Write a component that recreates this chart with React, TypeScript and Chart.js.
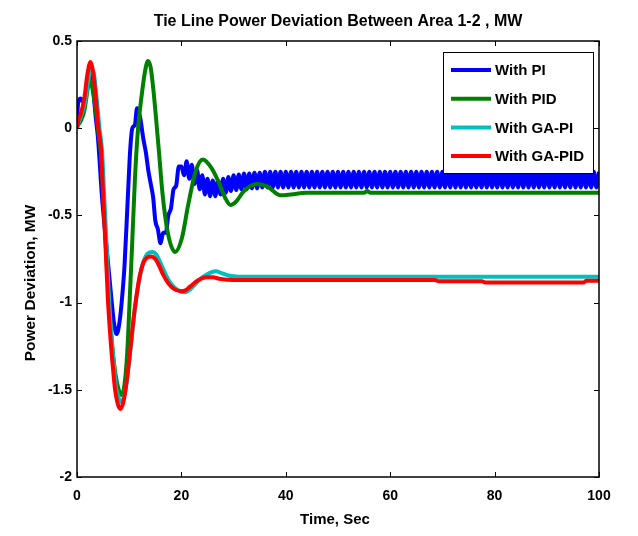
import React, { useEffect, useRef } from "react";
import { Chart, registerables } from "chart.js";

Chart.register(...registerables);

const chartTitle = "Tie Line Power Deviation Between Area 1-2 , MW";
const xAxisTitle = "Time, Sec";
const yAxisTitle = "Power Deviation, MW";
const seriesLabels = ["With PI", "With PID", "With GA-PI", "With GA-PID"];
const seriesColors = ["#0000FF", "#008000", "#00BFBF", "#FF0000"];
const xTicks = [0, 20, 40, 60, 80, 100];
const yTicks = [-2, -1.5, -1, -0.5, 0, 0.5];

// With PI (blue) – transient followed by a persistent ~1 s ripple
const piTime = [
  0, 0.2, 0.7, 1.2, 1.7, 2.2, 2.6, 3.1, 3.6, 4.0, 4.8, 5.4, 6.0, 6.6, 7.1, 7.6, 8.2, 8.7, 9.1, 9.7,
  10.2, 10.6, 11.1, 11.5, 12.1, 12.7, 13.2, 13.7, 14.2, 14.6, 15.0, 15.5, 16.0, 16.5, 17.0, 17.5, 18.0, 18.5, 19.0, 19.5,
  20.0, 20.5, 21.0, 21.5, 22.0, 22.5, 23.0, 23.5, 24.0, 24.5, 25.0, 25.5, 26.0, 26.5, 27.0, 27.5, 28.0, 28.5, 29.0, 29.5,
  30.0, 30.5, 31.0, 31.5, 32.0, 32.5, 33.0, 33.5, 34.0, 34.5, 35.0, 35.5, 36.0, 36.5, 37.0, 37.5, 38.0, 38.5, 39.0, 39.5,
  40.0, 40.5, 41.0, 41.5, 42.0, 42.5, 43.0, 43.5, 44.0, 44.5, 45.0, 45.5, 46.0, 46.5, 47.0, 47.5, 48.0, 48.5, 49.0, 49.5,
  50.0, 50.5, 51.0, 51.5, 52.0, 52.5, 53.0, 53.5, 54.0, 54.5, 55.0, 55.5, 56.0, 56.5, 57.0, 57.5, 58.0, 58.5, 59.0, 59.5,
  60.0, 60.5, 61.0, 61.5, 62.0, 62.5, 63.0, 63.5, 64.0, 64.5, 65.0, 65.5, 66.0, 66.5, 67.0, 67.5, 68.0, 68.5, 69.0, 69.5,
  70.0, 70.5, 71.0, 71.5, 72.0, 72.5, 73.0, 73.5, 74.0, 74.5, 75.0, 75.5, 76.0, 76.5, 77.0, 77.5, 78.0, 78.5, 79.0, 79.5,
  80.0, 80.5, 81.0, 81.5, 82.0, 82.5, 83.0, 83.5, 84.0, 84.5, 85.0, 85.5, 86.0, 86.5, 87.0, 87.5, 88.0, 88.5, 89.0, 89.5,
  90.0, 90.5, 91.0, 91.5, 92.0, 92.5, 93.0, 93.5, 94.0, 94.5, 95.0, 95.5, 96.0, 96.5, 97.0, 97.5, 98.0, 98.5, 99.0, 99.5,
  100.0,
];
const piValues = [
  0.02, 0.14, 0.17, 0.15, 0.2, 0.3, 0.33, 0.22, 0.06, -0.05, -0.4, -0.6, -0.79, -0.98, -1.12, -1.18, -1.1, -0.95, -0.79, -0.42,
  -0.12, 0.0, 0.02, 0.115, 0.06, -0.06, -0.14, -0.25, -0.33, -0.4, -0.53, -0.58, -0.66, -0.6, -0.6, -0.5, -0.46, -0.35, -0.33, -0.22,
  -0.22, -0.27, -0.19, -0.29, -0.21, -0.32, -0.24, -0.35, -0.27, -0.38, -0.29, -0.39, -0.3, -0.39, -0.3, -0.38, -0.29, -0.37, -0.28, -0.36,
  -0.27, -0.355, -0.265, -0.35, -0.26, -0.35, -0.26, -0.345, -0.255, -0.345, -0.255, -0.34, -0.25, -0.34, -0.25, -0.34, -0.25, -0.34, -0.25, -0.34,
  -0.25, -0.34, -0.25, -0.34, -0.25, -0.34, -0.25, -0.34, -0.25, -0.34, -0.25, -0.34, -0.25, -0.34, -0.25, -0.34, -0.25, -0.34, -0.25, -0.34,
  -0.25, -0.34, -0.25, -0.34, -0.25, -0.34, -0.25, -0.34, -0.25, -0.34, -0.25, -0.34, -0.25, -0.34, -0.25, -0.34, -0.25, -0.34, -0.25, -0.34,
  -0.25, -0.34, -0.25, -0.34, -0.25, -0.34, -0.25, -0.34, -0.25, -0.34, -0.25, -0.34, -0.25, -0.34, -0.25, -0.34, -0.25, -0.34, -0.25, -0.34,
  -0.25, -0.34, -0.25, -0.34, -0.25, -0.34, -0.25, -0.34, -0.25, -0.34, -0.25, -0.34, -0.25, -0.34, -0.25, -0.34, -0.25, -0.34, -0.25, -0.34,
  -0.25, -0.34, -0.25, -0.34, -0.25, -0.34, -0.25, -0.34, -0.25, -0.34, -0.25, -0.34, -0.25, -0.34, -0.25, -0.34, -0.25, -0.34, -0.25, -0.34,
  -0.25, -0.34, -0.25, -0.34, -0.25, -0.34, -0.25, -0.34, -0.25, -0.34, -0.25, -0.34, -0.25, -0.34, -0.25, -0.34, -0.25, -0.34, -0.25, -0.34,
  -0.25,
];

// With PID (green)
const pidTime = [
  0, 0.7, 1.4, 2.2, 2.6, 3.0, 3.6, 4.2, 4.6, 5.1, 5.6, 6.1, 6.6, 7.1, 7.6, 8.1, 8.6, 9.1, 9.6, 10.1,
  10.5, 11.1, 11.7, 12.4, 13.0, 13.6, 14.1, 14.6, 15.6, 16.4, 17.4, 18.8, 20.1, 21.3, 22.7, 24.1, 25.8, 27.0, 28.4, 29.4,
  30.5, 32.0, 34.5, 36.5, 39.0, 41.0, 44.0, 55.0, 55.6, 56.2, 100,
];
const pidValues = [
  0.01, 0.04, 0.1, 0.25, 0.27, 0.22, 0.1, -0.05, -0.15, -0.42, -0.72, -0.99, -1.2, -1.35, -1.45, -1.51, -1.53, -1.47, -1.3, -0.98,
  -0.71, -0.29, 0.0, 0.19, 0.32, 0.385, 0.35, 0.23, -0.1, -0.38, -0.6, -0.71, -0.63, -0.44, -0.25, -0.18, -0.23, -0.3, -0.4, -0.44,
  -0.42, -0.36, -0.32, -0.335, -0.385, -0.38, -0.37, -0.37, -0.36, -0.37, -0.37,
];

// With GA-PI (cyan)
const gaPiTime = [
  0, 0.4, 0.9, 1.6, 2.2, 2.8, 3.3, 3.8, 4.3, 4.8, 5.2, 5.7, 6.1, 6.6, 7.1, 7.5, 8.0, 8.5, 9.0, 9.5,
  10.0, 10.5, 11.0, 11.6, 12.2, 12.8, 13.5, 14.5, 15.2, 15.8, 16.7, 17.7, 18.7, 19.8, 20.8, 21.8, 22.8, 23.8, 24.8, 25.8,
  26.6, 27.6, 29.0, 31.0, 35.0, 100,
];
const gaPiValues = [
  0, 0.04, 0.08, 0.16, 0.28, 0.34, 0.3, 0.16, 0.0, -0.13, -0.38, -0.69, -0.96, -1.19, -1.37, -1.49, -1.55, -1.57, -1.54, -1.46,
  -1.34, -1.2, -1.06, -0.93, -0.83, -0.76, -0.72, -0.71, -0.725, -0.76, -0.82, -0.88, -0.915, -0.935, -0.94, -0.92, -0.89, -0.86, -0.84, -0.825,
  -0.82, -0.83, -0.845, -0.852, -0.852, -0.852,
];

// With GA-PID (red)
const gaPidTime = [
  0, 0.3, 0.7, 1.4, 2.0, 2.6, 3.1, 3.6, 4.1, 4.6, 5.0, 5.5, 5.9, 6.4, 6.9, 7.3, 7.8, 8.3, 8.8, 9.3,
  9.8, 10.3, 10.8, 11.4, 12.0, 12.6, 13.3, 14.3, 15.0, 15.6, 16.5, 17.5, 18.5, 19.9, 20.8, 21.6, 22.6, 23.6, 24.8, 26.0,
  27.5, 30.0, 35.0, 68.5, 69.2, 77.5, 78.2, 97.0, 97.6, 100,
];
const gaPidValues = [
  0, 0.05, 0.08, 0.17, 0.31, 0.38, 0.32, 0.17, 0.0, -0.12, -0.38, -0.7, -0.97, -1.2, -1.38, -1.5, -1.58, -1.61, -1.58, -1.5,
  -1.38, -1.24, -1.1, -0.96, -0.85, -0.78, -0.745, -0.735, -0.75, -0.78, -0.84, -0.89, -0.92, -0.935, -0.93, -0.91, -0.885, -0.865, -0.855, -0.855,
  -0.865, -0.87, -0.87, -0.87, -0.877, -0.877, -0.885, -0.885, -0.875, -0.875,
];

const seriesTimes = [piTime, pidTime, gaPiTime, gaPidTime];
const seriesValues = [piValues, pidValues, gaPiValues, gaPidValues];

const FONT = "'Liberation Sans', Arial, Helvetica, sans-serif";

const framePlugin = {
  id: "matlabFrame",
  afterDraw(chart: any) {
    const { ctx, chartArea: a, scales } = chart;
    const xs = scales.x;
    const ys = scales.y;
    ctx.save();
    ctx.strokeStyle = "#000";
    ctx.lineWidth = 1.5;
    ctx.strokeRect(a.left, a.top, a.right - a.left, a.bottom - a.top);
    ctx.lineWidth = 1;
    const tl = 5;
    ctx.beginPath();
    xTicks.forEach((t) => {
      const px = Math.round(xs.getPixelForValue(t)) + 0.5;
      ctx.moveTo(px, a.top);
      ctx.lineTo(px, a.top + tl);
      ctx.moveTo(px, a.bottom);
      ctx.lineTo(px, a.bottom - tl);
    });
    yTicks.forEach((v) => {
      const py = Math.round(ys.getPixelForValue(v)) + 0.5;
      ctx.moveTo(a.left, py);
      ctx.lineTo(a.left + tl, py);
      ctx.moveTo(a.right, py);
      ctx.lineTo(a.right - tl, py);
    });
    ctx.stroke();

    // legend
    const lw = 150;
    const lh = 121;
    const lx = a.right - 6 - lw;
    const ly = a.top + 11;
    ctx.fillStyle = "#fff";
    ctx.fillRect(lx, ly, lw, lh);
    ctx.strokeStyle = "#000";
    ctx.lineWidth = 1;
    ctx.strokeRect(lx + 0.5, ly + 0.5, lw, lh);
    ctx.font = `bold 15px ${FONT}`;
    ctx.textBaseline = "middle";
    ctx.textAlign = "left";
    seriesLabels.forEach((lab, i) => {
      const ry = ly + 18 + i * 28.7;
      ctx.strokeStyle = seriesColors[i];
      ctx.lineWidth = 4;
      ctx.beginPath();
      ctx.moveTo(lx + 8, ry);
      ctx.lineTo(lx + 48, ry);
      ctx.stroke();
      ctx.fillStyle = "#000";
      ctx.fillText(lab, lx + 52, ry + 1);
    });

    // axis titles
    ctx.fillStyle = "#000";
    ctx.font = `bold 15px ${FONT}`;
    ctx.textAlign = "center";
    ctx.textBaseline = "middle";
    ctx.fillText(xAxisTitle, (a.left + a.right) / 2 - 3, 520);
    ctx.save();
    ctx.translate(31, 283);
    ctx.rotate(-Math.PI / 2);
    ctx.font = `bold 15.5px ${FONT}`;
    ctx.fillText(yAxisTitle, 0, 0);
    ctx.restore();
    ctx.restore();
  },
};

export default function App() {
  const ref = useRef<HTMLCanvasElement | null>(null);
  useEffect(() => {
    if (!ref.current) return;
    const datasets = seriesLabels.map((label, i) => ({
      label,
      data: seriesTimes[i].map((t, j) => ({ x: t, y: seriesValues[i][j] })),
      borderColor: seriesColors[i],
      backgroundColor: seriesColors[i],
      borderWidth: 4,
      pointRadius: 0,
      fill: false,
      cubicInterpolationMode: "monotone" as const,
      order: 3 - i,
    }));
    const chart = new Chart(ref.current, {
      type: "line",
      data: { datasets },
      plugins: [framePlugin],
      options: {
        animation: false,
        responsive: false,
        layout: { padding: { left: 0, right: 39, top: 0, bottom: 0 } },
        plugins: {
          legend: { display: false },
          tooltip: { enabled: false },
          title: {
            display: true,
            fullSize: false,
            text: chartTitle,
            color: "#000",
            font: { family: FONT, size: 16, weight: "bold", lineHeight: 1.2 },
            padding: { top: 12, bottom: 9.8 },
          },
        },
        scales: {
          x: {
            type: "linear",
            min: 0,
            max: 100,
            afterBuildTicks: (s: any) => {
              s.ticks = xTicks.map((v) => ({ value: v }));
            },
            afterFit: (s: any) => {
              s.height = 59;
            },
            grid: { display: false, drawTicks: false },
            border: { display: false },
            ticks: {
              color: "#000",
              padding: 11,
              maxRotation: 0,
              font: { family: FONT, size: 14, weight: "bold" },
            },
          },
          y: {
            type: "linear",
            min: -2,
            max: 0.5,
            afterBuildTicks: (s: any) => {
              s.ticks = yTicks.map((v) => ({ value: v }));
            },
            afterFit: (s: any) => {
              s.width = 77;
            },
            grid: { display: false, drawTicks: false },
            border: { display: false },
            ticks: {
              color: "#000",
              padding: 5,
              font: { family: FONT, size: 14, weight: "bold" },
              callback: (v: any) => String(v),
            },
          },
        },
      },
    });
    return () => chart.destroy();
  }, []);
  return (
    <div style={{ position: "absolute", left: 0, top: 0, width: 638, height: 536, background: "#fff" }}>
      <canvas ref={ref} width={638} height={536} style={{ display: "block" }} />
    </div>
  );
}
